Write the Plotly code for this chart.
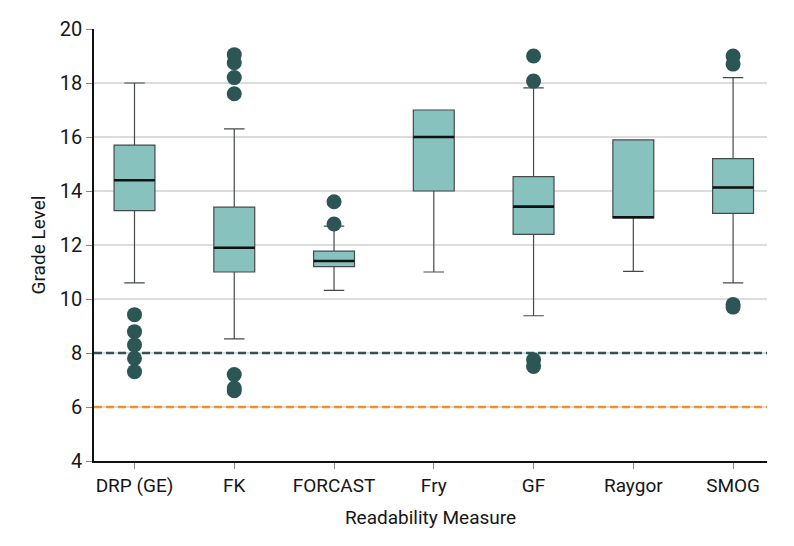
import plotly.graph_objects as go

categories = ["DRP (GE)", "FK", "FORCAST", "Fry", "GF", "Raygor", "SMOG"]
lower_fence = [10.6, 8.52, 10.32, 11.0, 9.38, 11.02, 10.6]
q1_vals = [13.27, 11.0, 11.2, 14.0, 12.39, 13.0, 13.17]
median_vals = [14.4, 11.9, 11.41, 16.0, 13.42, 13.03, 14.13]
q3_vals = [15.7, 13.4, 11.77, 17.0, 14.53, 15.89, 15.2]
upper_fence = [18.0, 16.3, 12.7, 17.0, 17.82, 15.89, 18.2]
outliers = {
    "DRP (GE)": [9.42, 8.79, 8.3, 7.8, 7.31],
    "FK": [19.05, 18.75, 18.2, 17.6, 7.2, 6.7, 6.6],
    "FORCAST": [13.6, 12.78],
    "Fry": [],
    "GF": [19.0, 18.07, 7.75, 7.5],
    "Raygor": [],
    "SMOG": [19.0, 18.7, 9.8, 9.7],
}
ref_grade8 = 8
ref_grade6 = 6
y_ticks = [4, 6, 8, 10, 12, 14, 16, 18, 20]

FONT = "Roboto, Arial, sans-serif"
BOX_W = 0.41
X_RANGE = [-0.406, 6.34]
positions = list(range(len(categories)))

fig = go.Figure()

# reference lines (drawn first so the outliers sit on top)
fig.add_trace(go.Scatter(
    x=X_RANGE, y=[ref_grade8, ref_grade8], mode="lines",
    line=dict(color="#2b5654", width=2.5, dash="8px,4px"),
    showlegend=False, hoverinfo="skip", cliponaxis=False,
))
fig.add_trace(go.Scatter(
    x=X_RANGE, y=[ref_grade6, ref_grade6], mode="lines",
    line=dict(color="#f0922b", width=2.5, dash="8px,4px"),
    showlegend=False, hoverinfo="skip", cliponaxis=False,
))

fig.add_trace(go.Box(
    x=positions,
    q1=q1_vals, median=median_vals, q3=q3_vals,
    lowerfence=lower_fence, upperfence=upper_fence,
    width=BOX_W, whiskerwidth=0.5,
    fillcolor="#87c2bf",
    line=dict(color="#444a4a", width=1.2),
    boxpoints=False, showlegend=False, hoverinfo="skip",
))

# thick black median lines
for i, m in zip(positions, median_vals):
    fig.add_trace(go.Scatter(
        x=[i - BOX_W / 2, i + BOX_W / 2], y=[m, m], mode="lines",
        line=dict(color="#111111", width=2.6), showlegend=False, hoverinfo="skip",
    ))

# outliers
for i, c in enumerate(categories):
    vals = outliers[c]
    if vals:
        fig.add_trace(go.Scatter(
            x=[i] * len(vals), y=vals, mode="markers",
            marker=dict(color="#2b5654", size=15, line=dict(width=0)),
            showlegend=False, hoverinfo="skip",
        ))

fig.update_layout(
    width=794, height=546,
    margin=dict(l=86, r=35, t=21, b=93),
    plot_bgcolor="white", paper_bgcolor="white",
    font=dict(family=FONT, size=18, color="#161616"),
    xaxis=dict(
        tickmode="array", tickvals=positions, ticktext=categories,
        range=X_RANGE, automargin=False,
        showline=True, linecolor="#111111", linewidth=1.5,
        ticks="outside", ticklen=6, tickcolor="#888888", tickwidth=1.2,
        showgrid=False, zeroline=False,
        title=dict(text="Readability Measure", standoff=15,
                   font=dict(family=FONT, size=19)),
        tickfont=dict(family=FONT, size=19),
    ),
    yaxis=dict(
        range=[4, 20], tickmode="array", tickvals=y_ticks, automargin=False,
        showline=True, linecolor="#111111", linewidth=1.5,
        ticks="outside", ticklen=6, tickcolor="#888888", tickwidth=1.2,
        showgrid=True, gridcolor="#dcdcdc", gridwidth=1.5,
        zeroline=False,
        title=dict(text="Grade Level", standoff=9,
                   font=dict(family=FONT, size=19)),
        tickfont=dict(family=FONT, size=20),
    ),
)

fig.write_html("out.html")
